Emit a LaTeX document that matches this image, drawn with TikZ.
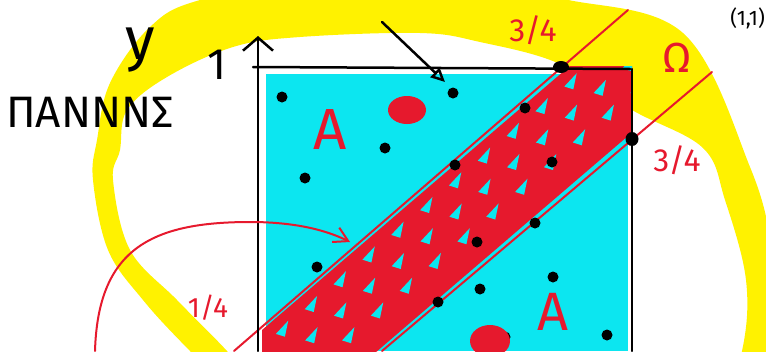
\documentclass[tikz,border=0pt]{standalone}
\usepackage{fontspec}
\setmainfont{Fira Sans}
\usetikzlibrary{arrows.meta, calc, shapes.geometric}
\definecolor{skyfill}{RGB}{12,230,240}
\definecolor{penred}{RGB}{230,25,45}
\definecolor{hiyellow}{RGB}{255,242,0}

\begin{document}
\begin{tikzpicture}[x=1pt, y=-1pt,
  dot/.style={circle, fill=black, inner sep=0pt, minimum size=11pt},
  bigdot/.style={ellipse, fill=black, inner sep=0pt, minimum width=16pt, minimum height=12pt},
  blob/.style={ellipse, fill=penred, inner sep=0pt},
  redtxt/.style={text=penred, inner sep=0pt, font=\fontsize{32}{32}\selectfont},
  inktxt/.style={text=black, inner sep=0pt},
  pen/.style={draw=black, line width=2.5pt, line cap=round},
  redpen/.style={draw=penred, line width=2pt, line cap=round}
]

% ===== FRAME =====
\useasboundingbox (0,0) rectangle (766,351);
\clip (0,0) rectangle (766,351);

% ===== YELLOW RING =====
\fill[hiyellow, even odd rule]
  plot[smooth cycle, tension=0.6] coordinates {(93,180) (97,140) (110,83) (150,27) (200,0) (330,-25)
    (470,-25) (560,-2) (683,33) (750,167) (772,250) (776,330) (765,400) (600,480)
    (400,480) (260,420) (190,351) (143,300) (108,250)}
  plot[smooth cycle, tension=0.6] coordinates {(113,180) (120,150) (127,110) (167,77) (233,47) (300,37)
    (420,33) (480,42) (560,64) (632,110) (703,148) (725,200) (746,280) (742,351)
    (715,425) (600,450) (400,450) (250,380) (227,351) (177,300) (130,250)};

% ===== UNIT SQUARE FILL =====
\fill[skyfill] (266,74) rectangle (628,351);

% ===== DIAGONAL BAND (scribbled) =====
\begin{scope}
  \clip (262,66) rectangle (632,351);
  \begin{scope}[shift={(262,330)}, x={(0.759pt,0.651pt)}, y={(0.651pt,-0.759pt)}]
    \fill[penred] (-200,0) -- (520,0) -- (520,91) -- (-200,91) -- cycle;
    % gaps left open by the scribble
    \foreach \s in {-30,8,...,460}{
      \foreach \t/\d in {12/0, 36/18, 60/8}{
        \fill[skyfill] (\s+\d,\t) -- ++(18,-2) -- ++(-13,10) -- cycle;
      }
    }
  \end{scope}
\end{scope}

% ===== BAND EDGES =====
\coordinate (ua) at (628,10);
\coordinate (ub) at (234,351);
\coordinate (la) at (712,72);
\coordinate (lb) at (382,351);
\draw[redpen] (ua) -- (ub);
\draw[redpen] (la) -- (lb);

% ===== SQUARE AND Y AXIS =====
\coordinate (ybase) at (258,351);
\coordinate (ytip) at (258,36);
\draw[pen, -{Straight Barb[length=13pt, width=30pt]}] (ybase) -- (ytip);
\draw[pen] (253,67) -- (630,69);
\draw[pen] (632,69) -- (632,351);

% ===== SAMPLE POINTS =====
\foreach \x/\y [count=\i] in {282/97, 453/93, 385/148, 305/178, 525/108, 455/165, 552/162,
    535/223, 477/242, 317/267, 553/277, 480/289, 438/302, 607/335, 505/337}{
  \node[dot] (p\i) at (\x,\y) {};
}
\node[bigdot] (c1) at (561,67) {};
\node[bigdot, minimum width=13pt, minimum height=14pt] (c2) at (632,139) {};

% ===== RED BLOBS =====
\node[blob, minimum width=38pt, minimum height=28pt] (b1) at (407,110) {};
\node[blob, minimum width=40pt, minimum height=32pt] (b2) at (490,341) {};

% ===== ARROWS =====
\coordinate (ka) at (382,22);
\coordinate (kb) at (445,82);
\draw[pen, -{Triangle[open, length=14pt, width=13pt]}] (ka) -- (kb);

\coordinate (ra) at (95,351);
\coordinate (rb) at (350,242);
\draw[redpen, -{Straight Barb[length=14pt, width=16pt]}]
  (ra) .. controls (98,250) and (150,222) .. (250,222) .. controls (300,222) and (330,232) .. (rb);

% ===== LABELS =====
\node[inktxt, font=\fontsize{60}{60}\selectfont] (ylab) at (140,50) {y};
\node[inktxt, font=\fontsize{44}{44}\selectfont] (one) at (217,65) {1};
\node[inktxt, font=\fontsize{44}{44}\selectfont, anchor=west] (name) at (6,112) {ΠΑΝΝΝΣ};
\node[inktxt, font=\fontsize{21}{21}\selectfont, anchor=east] (corner) at (765,18) {(1,1)};

\node[redtxt] (qtop) at (533,30) {3/4};
\node[redtxt] (qright) at (677,160) {3/4};
\node[redtxt, font=\fontsize{28}{28}\selectfont] (qleft) at (208,308) {1/4};
\node[redtxt, font=\fontsize{42}{42}\selectfont] (omega) at (677,58) {Ω};
\node[redtxt, font=\fontsize{58}{58}\selectfont] (aone) at (330,130) {A};
\node[redtxt, font=\fontsize{54}{54}\selectfont] (atwo) at (553,312) {A};

\end{tikzpicture}
\end{document}
